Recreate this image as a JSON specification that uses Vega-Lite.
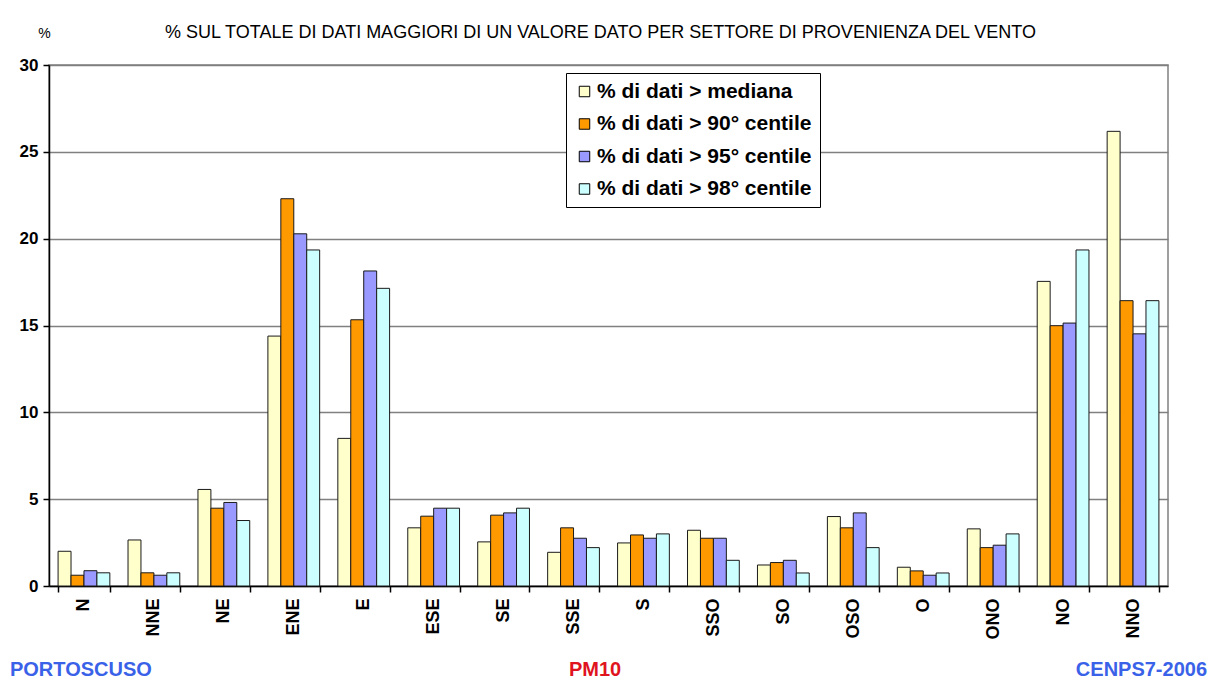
{
  "$schema": "https://vega.github.io/schema/vega-lite/v6.json",
  "width": 1119,
  "height": 521,
  "autosize": "none",
  "padding": {"left": 49, "top": 65, "right": 42, "bottom": 93},
  "background": "white",
  "config": {
    "font": "Liberation Sans",
    "view": {"stroke": "#808080", "strokeWidth": 1.5},
    "title": {"font": "Liberation Sans"}
  },
  "title": {
    "text": "% SUL TOTALE DI DATI MAGGIORI DI UN VALORE DATO PER SETTORE DI PROVENIENZA DEL VENTO",
    "fontSize": 18,
    "fontWeight": "normal",
    "color": "#000000",
    "anchor": "middle",
    "offset": -16,
    "dx": -8
  },
  "data": {
    "values": [
      {"settore": "N", "serie": "% di dati > mediana", "valore": 2.0},
      {"settore": "N", "serie": "% di dati > 90° centile", "valore": 0.62},
      {"settore": "N", "serie": "% di dati > 95° centile", "valore": 0.88},
      {"settore": "N", "serie": "% di dati > 98° centile", "valore": 0.76},
      {"settore": "NNE", "serie": "% di dati > mediana", "valore": 2.65},
      {"settore": "NNE", "serie": "% di dati > 90° centile", "valore": 0.76},
      {"settore": "NNE", "serie": "% di dati > 95° centile", "valore": 0.62},
      {"settore": "NNE", "serie": "% di dati > 98° centile", "valore": 0.76},
      {"settore": "NE", "serie": "% di dati > mediana", "valore": 5.56},
      {"settore": "NE", "serie": "% di dati > 90° centile", "valore": 4.48},
      {"settore": "NE", "serie": "% di dati > 95° centile", "valore": 4.81},
      {"settore": "NE", "serie": "% di dati > 98° centile", "valore": 3.77},
      {"settore": "ENE", "serie": "% di dati > mediana", "valore": 14.39},
      {"settore": "ENE", "serie": "% di dati > 90° centile", "valore": 22.3},
      {"settore": "ENE", "serie": "% di dati > 95° centile", "valore": 20.28},
      {"settore": "ENE", "serie": "% di dati > 98° centile", "valore": 19.35},
      {"settore": "E", "serie": "% di dati > mediana", "valore": 8.5},
      {"settore": "E", "serie": "% di dati > 90° centile", "valore": 15.33},
      {"settore": "E", "serie": "% di dati > 95° centile", "valore": 18.14},
      {"settore": "E", "serie": "% di dati > 98° centile", "valore": 17.14},
      {"settore": "ESE", "serie": "% di dati > mediana", "valore": 3.35},
      {"settore": "ESE", "serie": "% di dati > 90° centile", "valore": 4.02},
      {"settore": "ESE", "serie": "% di dati > 95° centile", "valore": 4.48},
      {"settore": "ESE", "serie": "% di dati > 98° centile", "valore": 4.48},
      {"settore": "SE", "serie": "% di dati > mediana", "valore": 2.54},
      {"settore": "SE", "serie": "% di dati > 90° centile", "valore": 4.08},
      {"settore": "SE", "serie": "% di dati > 95° centile", "valore": 4.21},
      {"settore": "SE", "serie": "% di dati > 98° centile", "valore": 4.48},
      {"settore": "SSE", "serie": "% di dati > mediana", "valore": 1.94},
      {"settore": "SSE", "serie": "% di dati > 90° centile", "valore": 3.35},
      {"settore": "SSE", "serie": "% di dati > 95° centile", "valore": 2.75},
      {"settore": "SSE", "serie": "% di dati > 98° centile", "valore": 2.21},
      {"settore": "S", "serie": "% di dati > mediana", "valore": 2.48},
      {"settore": "S", "serie": "% di dati > 90° centile", "valore": 2.94},
      {"settore": "S", "serie": "% di dati > 95° centile", "valore": 2.75},
      {"settore": "S", "serie": "% di dati > 98° centile", "valore": 3.0},
      {"settore": "SSO", "serie": "% di dati > mediana", "valore": 3.21},
      {"settore": "SSO", "serie": "% di dati > 90° centile", "valore": 2.75},
      {"settore": "SSO", "serie": "% di dati > 95° centile", "valore": 2.75},
      {"settore": "SSO", "serie": "% di dati > 98° centile", "valore": 1.48},
      {"settore": "SO", "serie": "% di dati > mediana", "valore": 1.21},
      {"settore": "SO", "serie": "% di dati > 90° centile", "valore": 1.35},
      {"settore": "SO", "serie": "% di dati > 95° centile", "valore": 1.48},
      {"settore": "SO", "serie": "% di dati > 98° centile", "valore": 0.75},
      {"settore": "OSO", "serie": "% di dati > mediana", "valore": 4.0},
      {"settore": "OSO", "serie": "% di dati > 90° centile", "valore": 3.35},
      {"settore": "OSO", "serie": "% di dati > 95° centile", "valore": 4.21},
      {"settore": "OSO", "serie": "% di dati > 98° centile", "valore": 2.21},
      {"settore": "O", "serie": "% di dati > mediana", "valore": 1.08},
      {"settore": "O", "serie": "% di dati > 90° centile", "valore": 0.87},
      {"settore": "O", "serie": "% di dati > 95° centile", "valore": 0.62},
      {"settore": "O", "serie": "% di dati > 98° centile", "valore": 0.75},
      {"settore": "ONO", "serie": "% di dati > mediana", "valore": 3.29},
      {"settore": "ONO", "serie": "% di dati > 90° centile", "valore": 2.21},
      {"settore": "ONO", "serie": "% di dati > 95° centile", "valore": 2.35},
      {"settore": "ONO", "serie": "% di dati > 98° centile", "valore": 3.0},
      {"settore": "NO", "serie": "% di dati > mediana", "valore": 17.54},
      {"settore": "NO", "serie": "% di dati > 90° centile", "valore": 14.99},
      {"settore": "NO", "serie": "% di dati > 95° centile", "valore": 15.14},
      {"settore": "NO", "serie": "% di dati > 98° centile", "valore": 19.35},
      {"settore": "NNO", "serie": "% di dati > mediana", "valore": 26.18},
      {"settore": "NNO", "serie": "% di dati > 90° centile", "valore": 16.43},
      {"settore": "NNO", "serie": "% di dati > 95° centile", "valore": 14.52},
      {"settore": "NNO", "serie": "% di dati > 98° centile", "valore": 16.43}
    ]
  },
  "layer": [
    {
      "mark": {"type": "bar", "stroke": "#1a1a1a", "strokeWidth": 1},
      "encoding": {
        "x": {
          "field": "settore",
          "type": "nominal",
          "sort": ["N", "NNE", "NE", "ENE", "E", "ESE", "SE", "SSE", "S", "SSO", "SO", "OSO", "O", "ONO", "NO", "NNO"],
          "scale": {"paddingInner": 0.26, "paddingOuter": 0.13},
          "axis": {
            "title": null,
            "labelAngle": -90,
            "labelFontSize": 18,
            "labelFontWeight": "bold",
            "labelColor": "#000000",
            "labelPadding": 6,
            "tickBand": "extent",
            "tickSize": 6,
            "tickColor": "#000000",
            "tickWidth": 1.5,
            "domainColor": "#000000",
            "domainWidth": 1.5
          }
        },
        "xOffset": {
          "field": "serie",
          "type": "nominal",
          "sort": ["% di dati > mediana", "% di dati > 90° centile", "% di dati > 95° centile", "% di dati > 98° centile"],
          "scale": {"paddingInner": 0, "paddingOuter": 0}
        },
        "y": {
          "field": "valore",
          "type": "quantitative",
          "scale": {"domain": [0, 30], "nice": false},
          "axis": {
            "title": "%",
            "titleAngle": 0,
            "titleFontSize": 14,
            "titleFontWeight": "normal",
            "titleColor": "#000000",
            "titleX": -5,
            "titleY": -32,
            "titleAlign": "center",
            "titleBaseline": "middle",
            "values": [0, 5, 10, 15, 20, 25, 30],
            "labelFontSize": 17,
            "labelFontWeight": "bold",
            "labelColor": "#000000",
            "labelPadding": 5,
            "tickSize": 6,
            "tickColor": "#000000",
            "tickWidth": 1.5,
            "domainColor": "#000000",
            "domainWidth": 1.5,
            "grid": true,
            "gridColor": "#808080",
            "gridWidth": 1.5
          }
        },
        "color": {
          "field": "serie",
          "type": "nominal",
          "sort": ["% di dati > mediana", "% di dati > 90° centile", "% di dati > 95° centile", "% di dati > 98° centile"],
          "scale": {
            "domain": ["% di dati > mediana", "% di dati > 90° centile", "% di dati > 95° centile", "% di dati > 98° centile"],
            "range": ["#FFFFCC", "#FF9900", "#9999FF", "#CCFFFF"]
          },
          "legend": {
            "title": null,
            "orient": "none",
            "legendX": 517,
            "legendY": 8,
            "fillColor": "#FFFFFF",
            "strokeColor": "#000000",
            "padding": 8,
            "rowPadding": 10.5,
            "symbolType": "square",
            "symbolSize": 110,
            "symbolStrokeColor": "#000000",
            "symbolStrokeWidth": 1,
            "labelFontSize": 21,
            "labelFontWeight": "bold",
            "labelColor": "#000000",
            "labelOffset": 2,
            "labelLimit": 400
          }
        }
      }
    },
    {
      "data": {"values": [{}]},
      "mark": {"type": "text", "align": "left", "baseline": "middle", "fontSize": 20, "fontWeight": "bold", "color": "#3A62E8", "dx": -74},
      "encoding": {
        "x": {"datum": "N"},
        "y": {"datum": -4.85},
        "text": {"value": "PORTOSCUSO"}
      }
    },
    {
      "data": {"values": [{}]},
      "mark": {"type": "text", "align": "center", "baseline": "middle", "fontSize": 20, "fontWeight": "bold", "color": "#E0141E", "dx": 21.5},
      "encoding": {
        "x": {"datum": "SSE"},
        "y": {"datum": -4.85},
        "text": {"value": "PM10"}
      }
    },
    {
      "data": {"values": [{}]},
      "mark": {"type": "text", "align": "right", "baseline": "middle", "fontSize": 20, "fontWeight": "bold", "color": "#3A62E8", "dx": 74},
      "encoding": {
        "x": {"datum": "NNO"},
        "y": {"datum": -4.85},
        "text": {"value": "CENPS7-2006"}
      }
    }
  ]
}
